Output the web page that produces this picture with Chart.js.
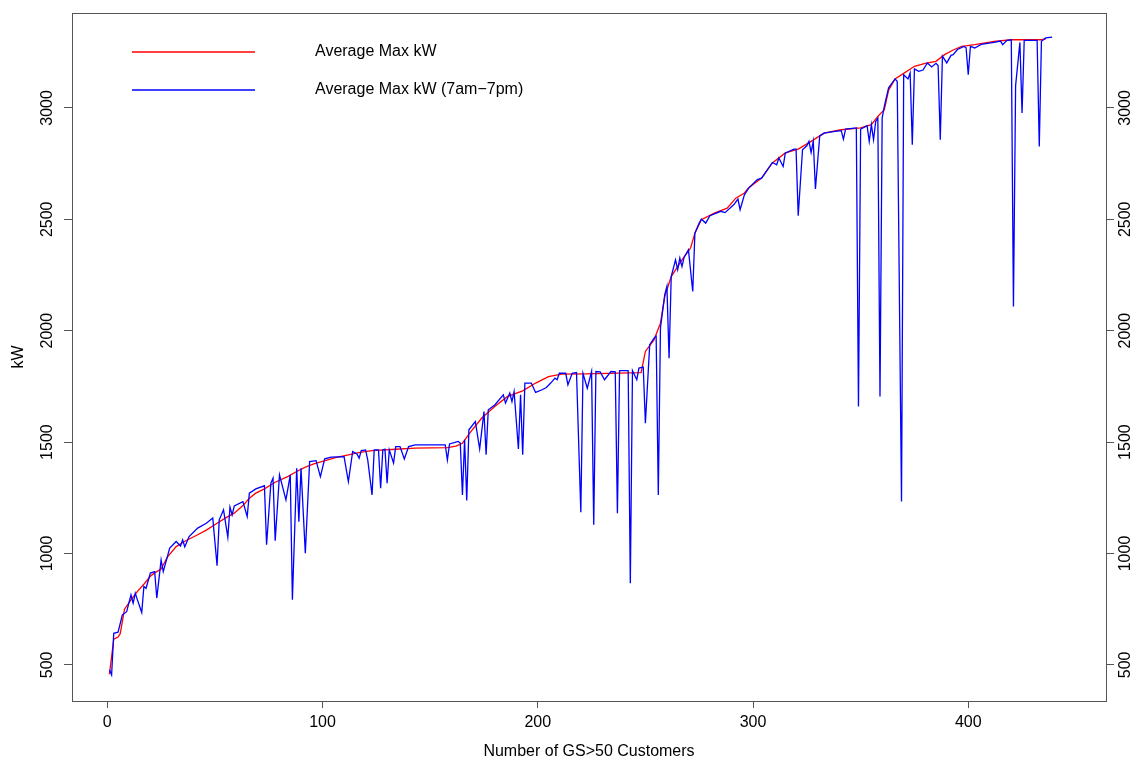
<!DOCTYPE html>
<html>
<head>
<meta charset="utf-8">
<script src="https://cdn.jsdelivr.net/npm/chart.js@4"></script>
<style>
  html, body { margin: 0; padding: 0; background: #fff; }
  #wrap { width: 1130px; height: 759px; }
</style>
</head>
<body>
<div id="wrap"><canvas id="kw-chart" width="1130" height="759"></canvas></div>
<script>
// customer number / kW
var maxCustomers = [1, 3, 5, 6, 8, 11, 14, 17, 20, 22, 25, 28, 32, 36, 42, 46, 51, 55, 59, 63, 66, 69, 73, 78, 84, 88, 92, 96, 100, 106, 112, 118, 123, 134, 143, 158, 162, 165, 169, 174, 180, 186, 193, 199, 205, 211, 222, 248, 250, 254, 257, 259, 262, 267, 271, 273, 276, 282, 288, 292, 296, 298, 304, 309, 315, 321, 327, 333, 341, 350, 355, 358, 361, 363, 366, 370, 375, 380, 385, 389, 393, 397, 403, 412, 420, 434, 436];
var maxKw = [458, 615, 625, 640, 750, 792, 830, 862, 898, 913, 930, 985, 1031, 1055, 1084, 1105, 1136, 1160, 1181, 1215, 1248, 1271, 1290, 1320, 1346, 1368, 1388, 1402, 1413, 1430, 1443, 1455, 1462, 1468, 1473, 1475, 1482, 1495, 1548, 1608, 1660, 1705, 1730, 1765, 1794, 1805, 1806, 1812, 1907, 1959, 2034, 2154, 2243, 2318, 2371, 2438, 2498, 2528, 2550, 2595, 2618, 2642, 2685, 2753, 2798, 2815, 2850, 2887, 2902, 2910, 2925, 2962, 2992, 3080, 3130, 3155, 3187, 3200, 3209, 3239, 3260, 3276, 3284, 3299, 3306, 3306, 3310];

var dayCustomers = [1, 2, 3, 5, 7, 9, 11, 12, 13, 14, 16, 17, 18, 20, 22, 23, 25, 26, 29, 32, 34, 35, 36, 38, 42, 46, 49, 51, 52, 54, 56, 57, 58, 59, 63, 65, 66, 69, 73, 74, 76, 77, 78, 80, 83, 85, 86, 88, 89, 90, 92, 94, 97, 99, 101, 104, 110, 112, 114, 116, 117, 118, 120, 121, 123, 124, 126, 127, 128, 129, 130, 131, 133, 134, 136, 138, 140, 143, 157, 158, 159, 163, 164, 165, 166, 167, 168, 171, 173, 175, 176, 177, 180, 184, 185, 187, 188, 189, 191, 192, 193, 194, 197, 199, 202, 204, 206, 208, 209, 210, 213, 214, 216, 218, 220, 221, 223, 225, 226, 227, 229, 231, 234, 236, 237, 238, 242, 243, 244, 246, 247, 249, 250, 252, 254, 255, 256, 257, 259, 260, 261, 262, 264, 265, 266, 267, 268, 270, 272, 273, 275, 276, 278, 280, 285, 287, 291, 293, 294, 296, 298, 302, 304, 309, 311, 312, 314, 315, 319, 320, 321, 323, 325, 326, 327, 328, 329, 331, 333, 338, 341, 342, 343, 348, 349, 350, 353, 354, 355, 356, 357, 358, 359, 360, 361, 363, 366, 367, 369, 370, 372, 373, 374, 375, 377, 379, 381, 383, 385, 386, 387, 388, 390, 392, 393, 395, 398, 399, 400, 401, 403, 406, 412, 415, 416, 418, 420, 421, 422, 424, 425, 426, 432, 433, 434, 436, 439];
var dayKw = [478, 455, 642, 647, 725, 739, 814, 777, 822, 792, 735, 852, 844, 912, 919, 800, 971, 919, 1024, 1054, 1034, 1061, 1030, 1076, 1114, 1136, 1159, 945, 1151, 1196, 1073, 1208, 1173, 1214, 1233, 1166, 1271, 1290, 1304, 1039, 1316, 1338, 1057, 1353, 1241, 1353, 792, 1383, 1143, 1383, 1001, 1413, 1417, 1345, 1425, 1433, 1435, 1323, 1458, 1447, 1428, 1462, 1465, 1420, 1263, 1465, 1465, 1293, 1465, 1468, 1316, 1465, 1406, 1480, 1480, 1424, 1480, 1488, 1488, 1420, 1492, 1503, 1496, 1263, 1510, 1238, 1555, 1592, 1469, 1637, 1443, 1645, 1667, 1712, 1675, 1720, 1682, 1727, 1469, 1712, 1443, 1765, 1765, 1723, 1735, 1745, 1765, 1787, 1780, 1809, 1809, 1757, 1809, 1812, 1185, 1809, 1742, 1817, 1129, 1817, 1815, 1780, 1817, 1815, 1181, 1821, 1821, 867, 1821, 1780, 1832, 1837, 1585, 1937, 1967, 1975, 1263, 2012, 2162, 2199, 1877, 2243, 2318, 2274, 2326, 2288, 2330, 2363, 2176, 2438, 2483, 2501, 2483, 2516, 2536, 2530, 2565, 2591, 2543, 2610, 2640, 2678, 2685, 2755, 2745, 2775, 2737, 2797, 2815, 2815, 2516, 2812, 2830, 2850, 2800, 2850, 2636, 2874, 2887, 2895, 2898, 2860, 2905, 2910, 1660, 2905, 2920, 2850, 2925, 2857, 2939, 2954, 1705, 2954, 3007, 3090, 3130, 3120, 1233, 3149, 3130, 3157, 2835, 3175, 3164, 3170, 3202, 3184, 3200, 3190, 2857, 3232, 3202, 3236, 3239, 3262, 3276, 3270, 3149, 3276, 3269, 3285, 3294, 3300, 3284, 3303, 3306, 2109, 3100, 3294, 2977, 3303, 3303, 2827, 3299, 3314, 3318];

var xTicks = [0, 100, 200, 300, 400];
var yTicks = [500, 1000, 1500, 2000, 2500, 3000];
var seriesNames = ['Average Max kW', 'Average Max kW (7am\u22127pm)'];

var FONT = '"Liberation Sans", Arial, sans-serif';
var AXIS_COL = '#555';

function pairs(xs, ys) {
    return xs.map(function (x, i) { return { x: x, y: ys[i] }; });
}

function fixedTicks(values) {
    return function (scale) {
        scale.ticks = values.map(function (v) { return { value: v }; });
    };
}

// R style frame, rotated y labels and the borderless legend
var rDecor = {
    id: 'rDecor',
    afterDraw: function (chart) {
        var ctx = chart.ctx;
        var a = chart.chartArea;
        ctx.save();
        ctx.strokeStyle = AXIS_COL;
        ctx.lineWidth = 1;
        ctx.strokeRect(Math.round(a.left) + 0.5, Math.round(a.top) + 0.5,
            Math.round(a.right - a.left), Math.round(a.bottom - a.top));

        ctx.fillStyle = '#000';
        ctx.font = '16px ' + FONT;
        ctx.textAlign = 'center';
        ctx.textBaseline = 'middle';
        [['y', 48], ['y2', 1126]].forEach(function (s) {
            var scale = chart.scales[s[0]];
            yTicks.forEach(function (v) {
                var py = scale.getPixelForValue(v);
                ctx.save();
                ctx.translate(s[1], py);
                ctx.rotate(-Math.PI / 2);
                ctx.fillText(String(v), 0, 0);
                ctx.restore();
            });
        });

        var legendCols = ['#ff0000', '#0000ff'];
        ctx.textAlign = 'left';
        ctx.lineWidth = 1.3;
        seriesNames.forEach(function (name, i) {
            var ly = 52 + i * 38;
            ctx.strokeStyle = legendCols[i];
            ctx.beginPath();
            ctx.moveTo(132, ly);
            ctx.lineTo(255, ly);
            ctx.stroke();
            ctx.fillText(name, 315, ly);
        });
        ctx.restore();
    }
};

var yOpts = function (pos, width) {
    return {
        type: 'linear',
        position: pos,
        min: 338,
        max: 3426,
        afterBuildTicks: fixedTicks(yTicks),
        afterFit: function (scale) { scale.width = width; },
        ticks: { display: false },
        grid: { drawOnChartArea: false, drawTicks: true, tickLength: 8, color: AXIS_COL },
        border: { display: false }
    };
};

var leftY = yOpts('left', 72);
leftY.title = {
    display: true,
    text: 'kW',
    color: '#000',
    font: { family: FONT, size: 16, lineHeight: 1 },
    padding: { top: 11, bottom: 0 }
};

new Chart(document.getElementById('kw-chart'), {
    type: 'line',
    data: {
        datasets: [
            {
                label: seriesNames[0],
                data: pairs(maxCustomers, maxKw),
                borderColor: '#ff0000',
                borderWidth: 1.3,
                pointRadius: 0,
                tension: 0,
                order: 2
            },
            {
                label: seriesNames[1],
                data: pairs(dayCustomers, dayKw),
                borderColor: '#0000ff',
                borderWidth: 1.3,
                pointRadius: 0,
                tension: 0,
                order: 1
            }
        ]
    },
    options: {
        responsive: false,
        animation: false,
        events: [],
        layout: { padding: { top: 13, left: 0, right: 0, bottom: 0 } },
        plugins: {
            legend: { display: false },
            tooltip: { enabled: false }
        },
        scales: {
            x: {
                type: 'linear',
                position: 'bottom',
                min: -16.4,
                max: 464,
                afterBuildTicks: fixedTicks(xTicks),
                afterFit: function (scale) { scale.height = 58; },
                ticks: { color: '#000', font: { family: FONT, size: 16 }, padding: 5, maxRotation: 0 },
                grid: { drawOnChartArea: false, drawTicks: true, tickLength: 7, color: AXIS_COL },
                border: { display: false },
                title: {
                    display: true,
                    text: 'Number of GS>50 Customers',
                    color: '#000',
                    font: { family: FONT, size: 16, lineHeight: 1 },
                    padding: { top: 0, bottom: -1 }
                }
            },
            y: leftY,
            y2: yOpts('right', 24)
        }
    },
    plugins: [rDecor]
});
</script>
</body>
</html>
